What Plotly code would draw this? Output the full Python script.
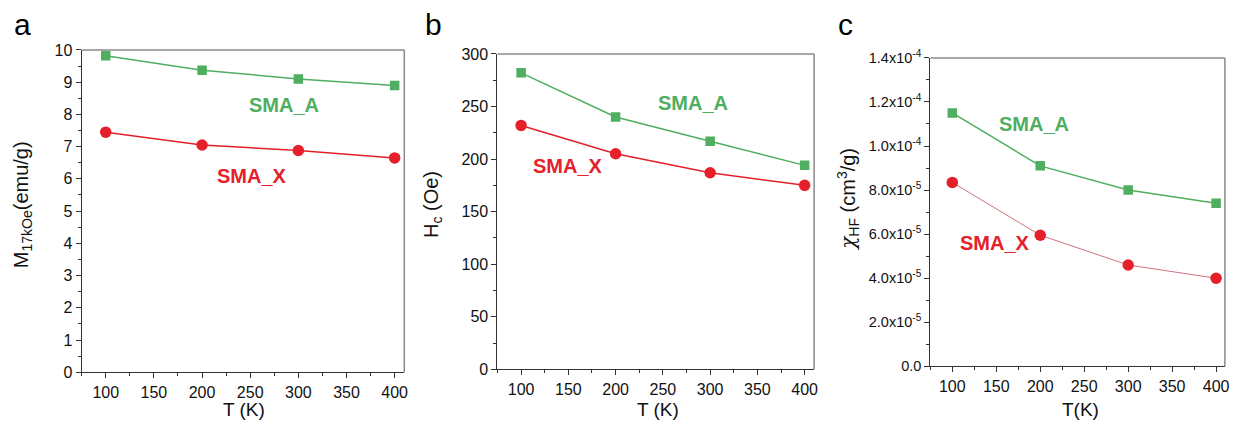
import plotly.graph_objects as go

T = [100, 200, 300, 400]
M_A = [9.82, 9.37, 9.10, 8.90]
M_X = [7.45, 7.05, 6.88, 6.65]
Hc_A = [282, 240, 217, 194]
Hc_X = [232, 205, 187, 175]
chi_A = [1.15e-4, 9.1e-5, 8.0e-5, 7.4e-5]
chi_X = [8.35e-5, 5.95e-5, 4.6e-5, 4.0e-5]

chi_tickvals = [0, 2e-5, 4e-5, 6e-5, 8e-5, 1.0e-4, 1.2e-4, 1.4e-4]
chi_ticktext = ["0.0", "2.0x10<sup>-5</sup>", "4.0x10<sup>-5</sup>", "6.0x10<sup>-5</sup>",
                "8.0x10<sup>-5</sup>", "1.0x10<sup>-4</sup>", "1.2x10<sup>-4</sup>", "1.4x10<sup>-4</sup>"]

GREEN = "#4fae5f"
RED = "#e5202a"
FONT = "Liberation Sans, Arial, sans-serif"
W, H = 1236, 424

# measured page -> picture mapping of the photographing step
SX, OX = 0.994, 1.5
SY, OY = 0.957, 10.0

def px(x):
    return ((x - OX) / SX) / W
def py(y):
    return 1 - ((y - OY) / SY) / H

fig = go.Figure()

panels = [
    ("", "", M_A, M_X, 1.5, RED, 1.5),
    ("2", "2", Hc_A, Hc_X, 1.5, RED, 1.5),
    ("3", "3", chi_A, chi_X, 1.5, "#c0505a", 0.8),
]
for xs, ys, A, X, wa, cx, wx in panels:
    fig.add_trace(go.Scatter(x=T, y=A, mode="lines+markers", xaxis="x" + xs, yaxis="y" + ys,
                             line=dict(color=GREEN, width=wa),
                             marker=dict(symbol="square", size=9.5, color=GREEN), showlegend=False))
    fig.add_trace(go.Scatter(x=T, y=X, mode="lines", xaxis="x" + xs, yaxis="y" + ys,
                             line=dict(color=cx, width=wx), showlegend=False))
    fig.add_trace(go.Scatter(x=T, y=X, mode="markers", xaxis="x" + xs, yaxis="y" + ys,
                             marker=dict(symbol="circle", size=11.5, color=RED), showlegend=False))

tickfont = dict(family=FONT, size=16, color="#111")
tickfont_c = dict(family=FONT, size=14.5, color="#111")

def xaxis(dom, anchor):
    return dict(domain=dom, anchor=anchor, range=[75, 410], tickvals=[100, 150, 200, 250, 300, 350, 400],
                ticks="outside", ticklen=5, tickwidth=1, tickcolor="#333",
                minor=dict(ticks="outside", ticklen=3, dtick=25, tick0=75, tickcolor="#333"),
                showline=True, linecolor="#333", linewidth=1.2, showgrid=False, zeroline=False,
                tickfont=tickfont)

def yaxis(dom, anchor, rng, dtick, minor_dtick, **kw):
    d = dict(domain=dom, anchor=anchor, range=rng, dtick=dtick, tick0=0,
             ticks="outside", ticklen=5, tickwidth=1, tickcolor="#333",
             minor=dict(ticks="outside", ticklen=3, dtick=minor_dtick, tick0=0, tickcolor="#333"),
             showline=True, linecolor="#333", linewidth=1.2, showgrid=False, zeroline=False,
             tickfont=tickfont)
    d.update(kw)
    return d

boxes = {
    "a": (83, 405, 50, 373),
    "b": (498, 814, 54, 370),
    "c": (930, 1224, 58, 367),
}

layout = dict(
    width=W, height=H, margin=dict(l=0, r=0, t=0, b=0),
    paper_bgcolor="white", plot_bgcolor="white", font=dict(family=FONT, color="#111"),
    xaxis=xaxis([px(83), px(405)], "y"),
    yaxis=yaxis([py(373), py(50)], "x", [0, 10], 1, 0.5),
    xaxis2=xaxis([px(498), px(814)], "y2"),
    yaxis2=yaxis([py(370), py(54)], "x2", [0, 300], 50, 25),
    xaxis3=xaxis([px(930), px(1224)], "y3"),
    yaxis3=yaxis([py(367), py(58)], "x3", [0, 1.4e-4], None, 1e-5,
                 tickvals=chi_tickvals, ticktext=chi_ticktext, tickfont=tickfont_c),
)
fig.update_layout(**layout)

# top/right frame lines (lighter gray)
shapes = []
for k, (l, r, t, b) in boxes.items():
    shapes.append(dict(type="line", xref="paper", yref="paper", x0=px(l), x1=px(r), y0=py(t), y1=py(t),
                       line=dict(color="#8a8a8a", width=1.5)))
    shapes.append(dict(type="line", xref="paper", yref="paper", x0=px(r), x1=px(r), y0=py(t), y1=py(b),
                       line=dict(color="#8a8a8a", width=1.5)))
fig.update_layout(shapes=shapes)

ann = []
# panel letters
for letter, x in [("a", 24), ("b", 434), ("c", 845)]:
    ann.append(dict(text=letter, x=px(x), y=py(25), xref="paper", yref="paper", showarrow=False,
                    font=dict(size=30, family=FONT, color="#000"), xanchor="center", yanchor="middle"))
# x titles
for txt, x in [("T (K)", 245), ("T (K)", 658), ("T(K)", 1080)]:
    ann.append(dict(text=txt, x=px(x), y=py(410), xref="paper", yref="paper", showarrow=False,
                    font=dict(size=19, family=FONT, color="#111"), xanchor="center", yanchor="middle"))
# y titles
chi = '<span style="font-family:DejaVu Serif"><i>χ</i></span>'
for txt, x, y in [("M<sub>17kOe</sub>(emu/g)", 24, 205), ("H<sub>c</sub> (Oe)", 433, 205),
                  (chi + "<sub>HF</sub> (cm<sup>3</sup>/g)", 848, 200)]:
    ann.append(dict(text=txt, x=px(x), y=py(y), xref="paper", yref="paper", showarrow=False, textangle=-90,
                    font=dict(size=20, family=FONT, color="#111"), xanchor="center", yanchor="middle"))
# series labels
for txt, x, y, xr, yr, col in [
    ("SMA_A", 285, 8.3, "x", "y", GREEN), ("SMA_X", 252, 6.1, "x", "y", RED),
    ("SMA_A", 282, 253, "x2", "y2", GREEN), ("SMA_X", 150, 193, "x2", "y2", RED),
    ("SMA_A", 193, 1.10e-4, "x3", "y3", GREEN), ("SMA_X", 149, 5.6e-5, "x3", "y3", RED),
]:
    ann.append(dict(text="<b>" + txt + "</b>", x=x, y=y, xref=xr, yref=yr, showarrow=False,
                    font=dict(size=20, family=FONT, color=col), xanchor="center", yanchor="middle"))
fig.update_layout(annotations=ann)

fig.write_html("out.html", config={"displayModeBar": False},
               post_script="document.body.style.margin='0';document.body.style.overflow='hidden';")
